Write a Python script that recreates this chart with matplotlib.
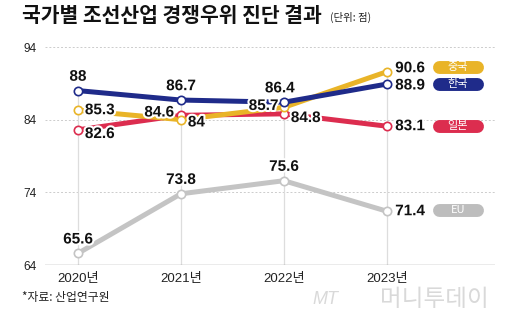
import matplotlib
matplotlib.use("Agg")
import matplotlib.pyplot as plt
import matplotlib.patheffects as pe

plt.rcParams['font.family'] = ['Liberation Sans', 'Noto Sans CJK KR', 'DejaVu Sans']

years = [2020, 2021, 2022, 2023]
year_labels = ['2020년', '2021년', '2022년', '2023년']
china = [85.3, 84.0, 85.7, 90.6]
korea = [88.0, 86.7, 86.4, 88.9]
japan = [82.6, 84.6, 84.8, 83.1]
eu = [65.6, 73.8, 75.6, 71.4]
yticks = [64, 74, 84, 94]

c_china = '#e9b428'
c_korea = '#1f2b8a'
c_japan = '#dc2d4f'
c_eu = '#c4c4c4'

fig = plt.figure(figsize=(5.2, 3.25), dpi=100)
ax = fig.add_axes([45/520, 1-265/325, 450/520, 218/325])
ax.set_xlim(2019.68, 2024.05)
ax.set_ylim(64, 94)

for y in yticks[1:]:
    ax.axhline(y, color='#cccccc', lw=0.7, ls=(0, (2, 2)), zorder=0)
ax.axhline(64, color='#999999', lw=1.0, zorder=1)

all_series = [china, korea, japan, eu]
for i, x in enumerate(years):
    top = max(s[i] for s in all_series)
    ax.vlines(x, 64, top, color='#dddddd', lw=0.9, zorder=0)

series = [(eu, c_eu), (japan, c_japan), (china, c_china), (korea, c_korea)]
for vals, c in series:
    ax.plot(years, vals, color=c, lw=3.6, zorder=2, solid_capstyle='butt')
    ax.plot(years, vals, 'o', ms=6, mfc='white', mec=c, mew=1.2, zorder=3)

stroke = [pe.withStroke(linewidth=3, foreground='white')]

def lab(x, y, txt, dx, dy, ha='center', va='center'):
    ax.annotate(txt, (x, y), xytext=(dx, dy), textcoords='offset points',
                ha=ha, va=va, fontsize=11, fontweight='bold', color='#111111',
                path_effects=stroke, zorder=5)

# 2020
lab(2020, korea[0], '88', 0, 10)
lab(2020, china[0], '85.3', 5, 0, ha='left')
lab(2020, japan[0], '82.6', 5, -3, ha='left')
lab(2020, eu[0], '65.6', 0, 10)
# 2021
lab(2021, korea[1], '86.7', 0, 10)
lab(2021, japan[1], '84.6', -5, 2, ha='right')
lab(2021, china[1], '84', 5, -2, ha='left')
lab(2021, eu[1], '73.8', 0, 10)
# 2022
lab(2022, korea[2], '86.4', -3, 10)
lab(2022, china[2], '85.7', -4, 1, ha='right')
lab(2022, japan[2], '84.8', 5, -3, ha='left')
lab(2022, eu[2], '75.6', 0, 10)
# 2023
shift = [2.5, -1, 0, 0]
for vals, dy in zip([china, korea, japan, eu], shift):
    lab(2023, vals[3], '%.1f' % vals[3], 6, dy, ha='left')

# legend pills
pill_names = ['중국', '한국', '일본', 'EU']
pill_colors = [c_china, c_korea, c_japan, '#bdbdbd']
pill_vals = [china[3], korea[3], japan[3], eu[3]]
pill_shift = [0.7, 0, 0, 0.2]
for name, c, v, s in zip(pill_names, pill_colors, pill_vals, pill_shift):
    ax.plot([2023.505, 2023.875], [v + s, v + s], color=c, lw=9.3,
            solid_capstyle='round', zorder=4)
    ax.text(2023.69, v + s, name, ha='center', va='center', fontsize=8,
            color='white', zorder=6, family=['Noto Sans CJK KR'])

ax.set_yticks(yticks)
ax.set_xticks(years)
ax.set_xticklabels(year_labels)
ax.tick_params(axis='y', length=0, pad=6, labelsize=8.5, labelcolor='#222222')
ax.tick_params(axis='x', length=0, pad=6, labelsize=9.5, labelcolor='#222222')
for sp in ax.spines.values():
    sp.set_visible(False)
ax.patch.set_alpha(0)

fig.text(22/520, 1-16/325, '국가별 조선산업 경쟁우위 진단 결과', fontsize=14.7,
         fontweight='bold', va='center', ha='left', color='#111111',
         family=['Noto Sans CJK KR'])
fig.text(330/520, 1-17/325, '(단위: 점)', fontsize=7.5, va='center', ha='left',
         color='#222222', family=['Noto Sans CJK KR'])
fig.text(22/520, 1-298/325, '*자료: 산업연구원', fontsize=8.5, va='center',
         ha='left', color='#222222', family=['Noto Sans CJK KR'])
fig.text(312/520, 1-299/325, 'MT', fontsize=13, style='italic', va='center',
         ha='left', color='#d9d9d9')
fig.text(380/520, 1-300/325, '머니투데이', fontsize=17, va='center', ha='left',
         color='#d9d9d9', fontweight='light', family=['Noto Sans CJK KR'])

fig.savefig('out.png', dpi=100)
